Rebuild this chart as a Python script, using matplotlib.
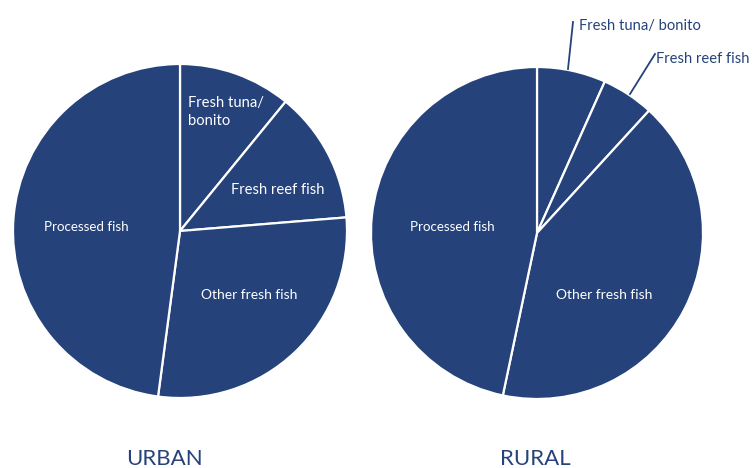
import matplotlib
matplotlib.use("Agg")
import matplotlib.pyplot as plt

plt.rcParams['font.family'] = ['Lato', 'DejaVu Sans']

categories = ["Fresh tuna/ bonito", "Fresh reef fish", "Other fresh fish", "Processed fish"]
urban_values = [10.9, 12.8, 28.4, 47.9]
rural_values = [6.7, 5.1, 41.5, 46.7]
titles = ["URBAN", "RURAL"]

W, H = 753, 468
color = '#25427a'

fig = plt.figure(figsize=(W / 100, H / 100), dpi=100)
fig.patch.set_facecolor('white')
ax = fig.add_axes([0, 0, 1, 1])

def py(y):
    return H - y

wp = dict(facecolor=color, edgecolor='white', linewidth=1.6)
ax.pie(urban_values, center=(180, py(231)), radius=167, startangle=90,
       counterclock=False, colors=[color] * 4, wedgeprops=wp, frame=True)
ax.pie(rural_values, center=(537, py(233)), radius=166, startangle=90,
       counterclock=False, colors=[color] * 4, wedgeprops=wp, frame=True)
ax.set_xlim(0, W)
ax.set_ylim(0, H)
ax.set_aspect('equal')
ax.axis('off')

fs_fresh = 10.6
fs_other = 10.0
fs_proc = 9.6
# Urban labels
ax.text(188, py(112), "Fresh tuna/\nbonito", color='white', fontsize=fs_fresh,
        ha='left', va='center', linespacing=1.4)
ax.text(278, py(190), categories[1], color='white', fontsize=fs_fresh, ha='center', va='center')
ax.text(249, py(295), categories[2], color='white', fontsize=fs_other, ha='center', va='center')
ax.text(86, py(227), categories[3], color='white', fontsize=fs_proc, ha='center', va='center')

# Rural labels
ax.text(452, py(227), categories[3], color='white', fontsize=fs_proc, ha='center', va='center')
ax.text(604, py(295), categories[2], color='white', fontsize=fs_other, ha='center', va='center')
ax.plot([568, 573], [py(69), py(22)], color=color, lw=1.3)
ax.text(579, py(26), categories[0], color=color, fontsize=fs_fresh, ha='left', va='center')
ax.plot([630, 655], [py(94), py(54)], color=color, lw=1.3)
ax.text(656, py(59), categories[1], color=color, fontsize=fs_fresh, ha='left', va='center')

# Titles
ax.text(164, py(459), titles[0], color=color, fontsize=16, ha='center', va='center')
ax.text(535, py(459), titles[1], color=color, fontsize=16, ha='center', va='center')

fig.savefig("out.png", dpi=100, facecolor='white')
